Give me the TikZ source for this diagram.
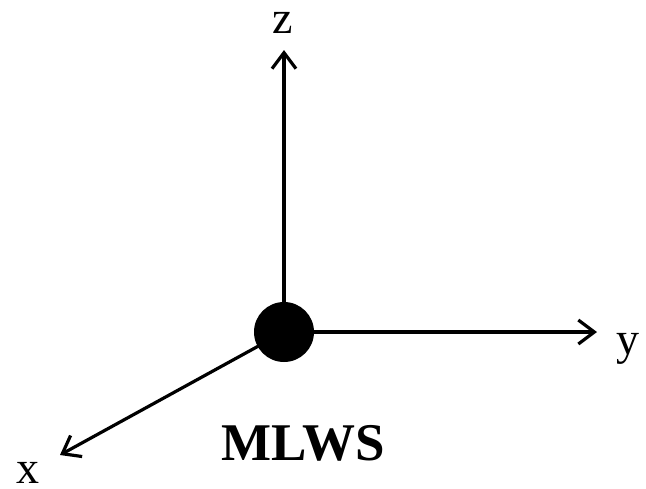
\documentclass[tikz,border=0pt]{standalone}
\usepackage{fontspec}
\setmainfont{Liberation Serif}
\usetikzlibrary{arrows.meta}
\tikzset{
  axis/.style={line width=3.2pt, -{Straight Barb[length=16pt,width=24pt,line width=3.2pt]}},
  axlabel/.style={font=\fontsize{46}{46}\selectfont, inner sep=0pt},
  dot/.style={circle, fill=black, minimum size=60pt, inner sep=0pt}
}
\begin{document}
\begin{tikzpicture}[x=1pt,y=-1pt]
\useasboundingbox (0,0) rectangle (646,488);
\node[dot] (O) at (284,332) {};
\coordinate (zt) at (284,50);
\coordinate (yt) at (597,332);
\coordinate (xt) at (60,455);
\draw[axis] (O.center) -- (zt);
\draw[axis] (O.center) -- (yt);
\draw[axis] (O.center) -- (xt);
\node[axlabel, anchor=base] (zl) at (283,33) {z};
\node[axlabel, anchor=base] (yl) at (628,354) {y};
\node[axlabel, anchor=base] (xl) at (28,483) {x};
\node[font=\fontsize{53}{53}\selectfont\bfseries, inner sep=0pt, anchor=base] (lab) at (303,460) {MLWS};
\end{tikzpicture}
\end{document}
